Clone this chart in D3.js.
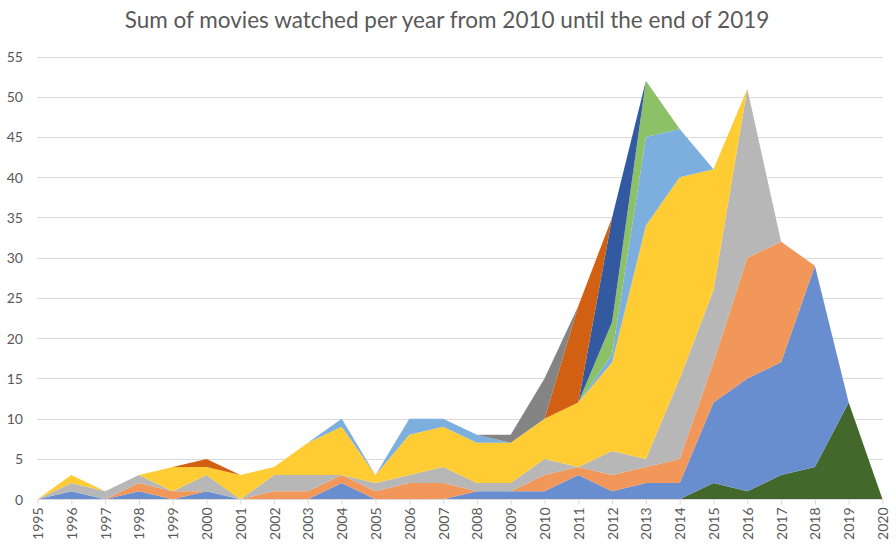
<!DOCTYPE html>
<html><head><meta charset="utf-8">
<script src="https://cdn.jsdelivr.net/npm/d3@7"></script>
<style>html,body{margin:0;padding:0;background:#fff;} svg{display:block;}</style>
</head><body><svg id="chart" width="896" height="545"></svg>
<script>
const chartTitle = "Sum of movies watched per year from 2010 until the end of 2019";
const years = [1995,1996,1997,1998,1999,2000,2001,2002,2003,2004,2005,2006,2007,2008,2009,2010,2011,2012,2013,2014,2015,2016,2017,2018,2019,2020];
const yTicks = [0,5,10,15,20,25,30,35,40,45,50,55];

// series, bottom to top of the stack
const seriesKeys   = ["s1","s2","s3","s4","s5","s6","s7","s8","s9","s10"];
const seriesColors = ["#43682b","#698ed0","#f1975a","#b7b7b7","#ffcd33","#7cafdd","#8cc168","#335aa1","#d26012","#848484"];
const s1  = [0,0,0,0,0,0,0,0,0,0,0,0,0,0,0,0,0,0,0,0,2,1,3,4,12,0];
const s2  = [0,1,0,1,0,1,0,0,0,2,0,0,0,1,1,1,3,1,2,2,10,14,14,25,0,0];
const s3  = [0,0,0,1,1,0,0,1,1,1,1,2,2,0,0,2,1,2,2,3,5,15,15,0,0,0];
const s4  = [0,1,1,1,0,2,0,2,2,0,1,1,2,1,1,2,0,3,1,10,9,21,0,0,0,0];
const s5  = [0,1,0,0,3,1,3,1,4,6,1,5,5,5,5,5,8,11,29,25,15,0,0,0,0,0];
const s6  = [0,0,0,0,0,0,0,0,0,1,0,2,1,1,0,0,0,1,11,6,0,0,0,0,0,0];
const s7  = [0,0,0,0,0,0,0,0,0,0,0,0,0,0,0,0,0,4,7,0,0,0,0,0,0,0];
const s8  = [0,0,0,0,0,0,0,0,0,0,0,0,0,0,0,0,0,13,0,0,0,0,0,0,0,0];
const s9  = [0,0,0,0,0,1,0,0,0,0,0,0,0,0,0,0,12,0,0,0,0,0,0,0,0,0];
const s10 = [0,0,0,0,0,0,0,0,0,0,0,0,0,0,1,5,0,0,0,0,0,0,0,0,0,0];
const seriesValues = [s1,s2,s3,s4,s5,s6,s7,s8,s9,s10];

const rows = years.map((yr, i) => {
  const r = {year: yr};
  seriesKeys.forEach((k, j) => r[k] = seriesValues[j][i]);
  return r;
});

const svg = d3.select("#chart");
const FONT = "Lato, 'Liberation Sans', Arial, sans-serif";
const TXT = "#595959";
const GRID = "#d9d9d9";

const x = d3.scaleLinear().domain([1995, 2020]).range([37.5, 882.5]);
const y = d3.scaleLinear().domain([0, 55]).range([499.2, 56.5]);

// gridlines
svg.append("g").selectAll("line").data(yTicks.filter(t => t > 0)).join("line")
  .attr("x1", x.range()[0]).attr("x2", x.range()[1])
  .attr("y1", d => Math.round(y(d)) + 0.5).attr("y2", d => Math.round(y(d)) + 0.5)
  .attr("stroke", GRID).attr("stroke-width", 1);

// stacked areas
const stack = d3.stack().keys(seriesKeys).order(d3.stackOrderNone).offset(d3.stackOffsetNone);
const layers = stack(rows);
const area = d3.area()
  .x(d => x(d.data.year))
  .y0(d => y(d[0]))
  .y1(d => y(d[1]));
svg.append("g").selectAll("path").data(layers).join("path")
  .attr("d", area)
  .attr("fill", (d, i) => seriesColors[i]);

// y axis labels
const yAxis = d3.axisLeft(y).tickValues(yTicks).tickSize(0).tickPadding(0).tickFormat(d3.format("d"));
const gy = svg.append("g").attr("transform", "translate(23,0)").call(yAxis);
gy.select(".domain").remove();
gy.selectAll("text").attr("fill", TXT).style("font-family", FONT).style("font-size", "14px").attr("dy", "0.35em").attr("x", 0);

// x axis
const xAxis = d3.axisBottom(x).tickValues(years).tickSize(5).tickPadding(0).tickFormat(d3.format("d"));
const gx = svg.append("g").attr("transform", `translate(0,${Math.round(y(0)) + 0.5})`).call(xAxis);
gx.select(".domain").attr("stroke", GRID).attr("d", `M${x.range()[0]},0H${x.range()[1]}`);
gx.selectAll(".tick line").attr("stroke", GRID);
gx.selectAll("text")
  .attr("fill", TXT).style("font-family", FONT).style("font-size", "14px")
  .attr("text-anchor", "end")
  .attr("transform", "rotate(-90)")
  .attr("x", -8).attr("y", 0).attr("dy", "0.35em");

// title
const title = svg.append("text")
  .attr("x", 447).attr("y", 28)
  .attr("text-anchor", "middle")
  .attr("fill", TXT)
  .style("font-family", FONT)
  .style("font-size", "20px")
  .text(chartTitle);
const w = title.node().getComputedTextLength();
title.style("font-size", (20 * 645 / w).toFixed(2) + "px");
</script>
</body></html>
